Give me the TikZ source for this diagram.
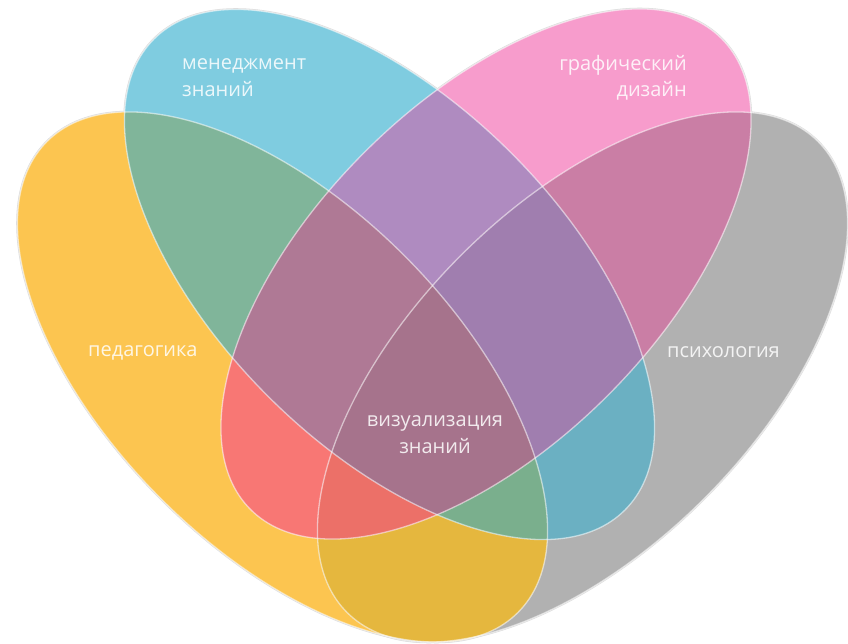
\documentclass[tikz,border=0pt]{standalone}
\usepackage{fontspec}
\setmainfont{Open Sans}
\definecolor{cY}{HTML}{FCC550}
\definecolor{cG}{HTML}{B1B1B1}
\definecolor{cB}{HTML}{7FCCE0}
\definecolor{cP}{HTML}{F79CCC}
\definecolor{cYG}{HTML}{E5B73E}
\definecolor{cYB}{HTML}{80B59A}
\definecolor{cYP}{HTML}{F87774}
\definecolor{cBG}{HTML}{6BB0C2}
\definecolor{cBP}{HTML}{AF8BC0}
\definecolor{cPG}{HTML}{CA7EA5}
\definecolor{cYBP}{HTML}{AF7995}
\definecolor{cYBG}{HTML}{7AAF8D}
\definecolor{cYPG}{HTML}{EC7068}
\definecolor{cBPG}{HTML}{A07EAF}
\definecolor{cYBPG}{HTML}{A6738C}
\tikzset{
  shY/.style={rotate around={-45:(282.5,266)}},
  shG/.style={rotate around={45:(582.5,266)}},
  shB/.style={rotate around={-45:(389.5,368.5)}},
  shP/.style={rotate around={45:(486,369)}},
  lbl/.style={text=white, text opacity=0.85, inner sep=0pt, font=\fontsize{20}{24}\selectfont},
  halo/.style={draw=black!14, line width=2.4pt},
  rim/.style={draw=white, draw opacity=0.55, line width=1.3pt}
}
\newcommand\ellY{(282.5,266) ellipse [x radius=333pt, y radius=172pt]}
\newcommand\ellG{(582.5,266) ellipse [x radius=333pt, y radius=172pt]}
\newcommand\ellB{(389.5,368.5) ellipse [x radius=333pt, y radius=172pt]}
\newcommand\ellP{(486,369) ellipse [x radius=333pt, y radius=172pt]}
\newcommand\regfill[1]{\fill[#1] (0,0) rectangle (848,643);}
\begin{document}
\begin{tikzpicture}[x=1pt,y=1pt]
\fill[white] (0,0) rectangle (848,643);
\useasboundingbox (0,0) rectangle (848,643);
% halos
\path[halo,shY] \ellY;
\path[halo,shG] \ellG;
\path[halo,shB] \ellB;
\path[halo,shP] \ellP;
% singles
\fill[cY,shY] \ellY;
\fill[cG,shG] \ellG;
\fill[cB,shB] \ellB;
\fill[cP,shP] \ellP;
% pairs
\begin{scope}\clip[shY] \ellY; \fill[cYG,shG] \ellG; \end{scope}
\begin{scope}\clip[shY] \ellY; \fill[cYB,shB] \ellB; \end{scope}
\begin{scope}\clip[shY] \ellY; \fill[cYP,shP] \ellP; \end{scope}
\begin{scope}\clip[shB] \ellB; \fill[cBG,shG] \ellG; \end{scope}
\begin{scope}\clip[shB] \ellB; \fill[cBP,shP] \ellP; \end{scope}
\begin{scope}\clip[shP] \ellP; \fill[cPG,shG] \ellG; \end{scope}
% triples
\begin{scope}\clip[shY] \ellY; \clip[shB] \ellB; \fill[cYBP,shP] \ellP; \end{scope}
\begin{scope}\clip[shY] \ellY; \clip[shB] \ellB; \fill[cYBG,shG] \ellG; \end{scope}
\begin{scope}\clip[shY] \ellY; \clip[shP] \ellP; \fill[cYPG,shG] \ellG; \end{scope}
\begin{scope}\clip[shB] \ellB; \clip[shP] \ellP; \fill[cBPG,shG] \ellG; \end{scope}
% quad
\begin{scope}\clip[shY] \ellY; \clip[shB] \ellB; \clip[shP] \ellP; \fill[cYBPG,shG] \ellG; \end{scope}
% rims
\path[rim,shY] \ellY;
\path[rim,shG] \ellG;
\path[rim,shB] \ellB;
\path[rim,shP] \ellP;
% labels
\node[lbl, anchor=base west] (m1) at (182,573) {менеджмент};
\node[lbl, anchor=base west] (m2) at (182,546) {знаний};
\node[lbl, anchor=base east] (g1) at (687,572) {графический};
\node[lbl, anchor=base east] (g2) at (687,546) {дизайн};
\node[lbl, anchor=base west] (pe) at (88,286) {педагогика};
\node[lbl, anchor=base east] (ps) at (780,285) {психология};
\node[lbl, anchor=base] (v1) at (435,217) {визуализация};
\node[lbl, anchor=base] (v2) at (435,190) {знаний};
\end{tikzpicture}
\end{document}
